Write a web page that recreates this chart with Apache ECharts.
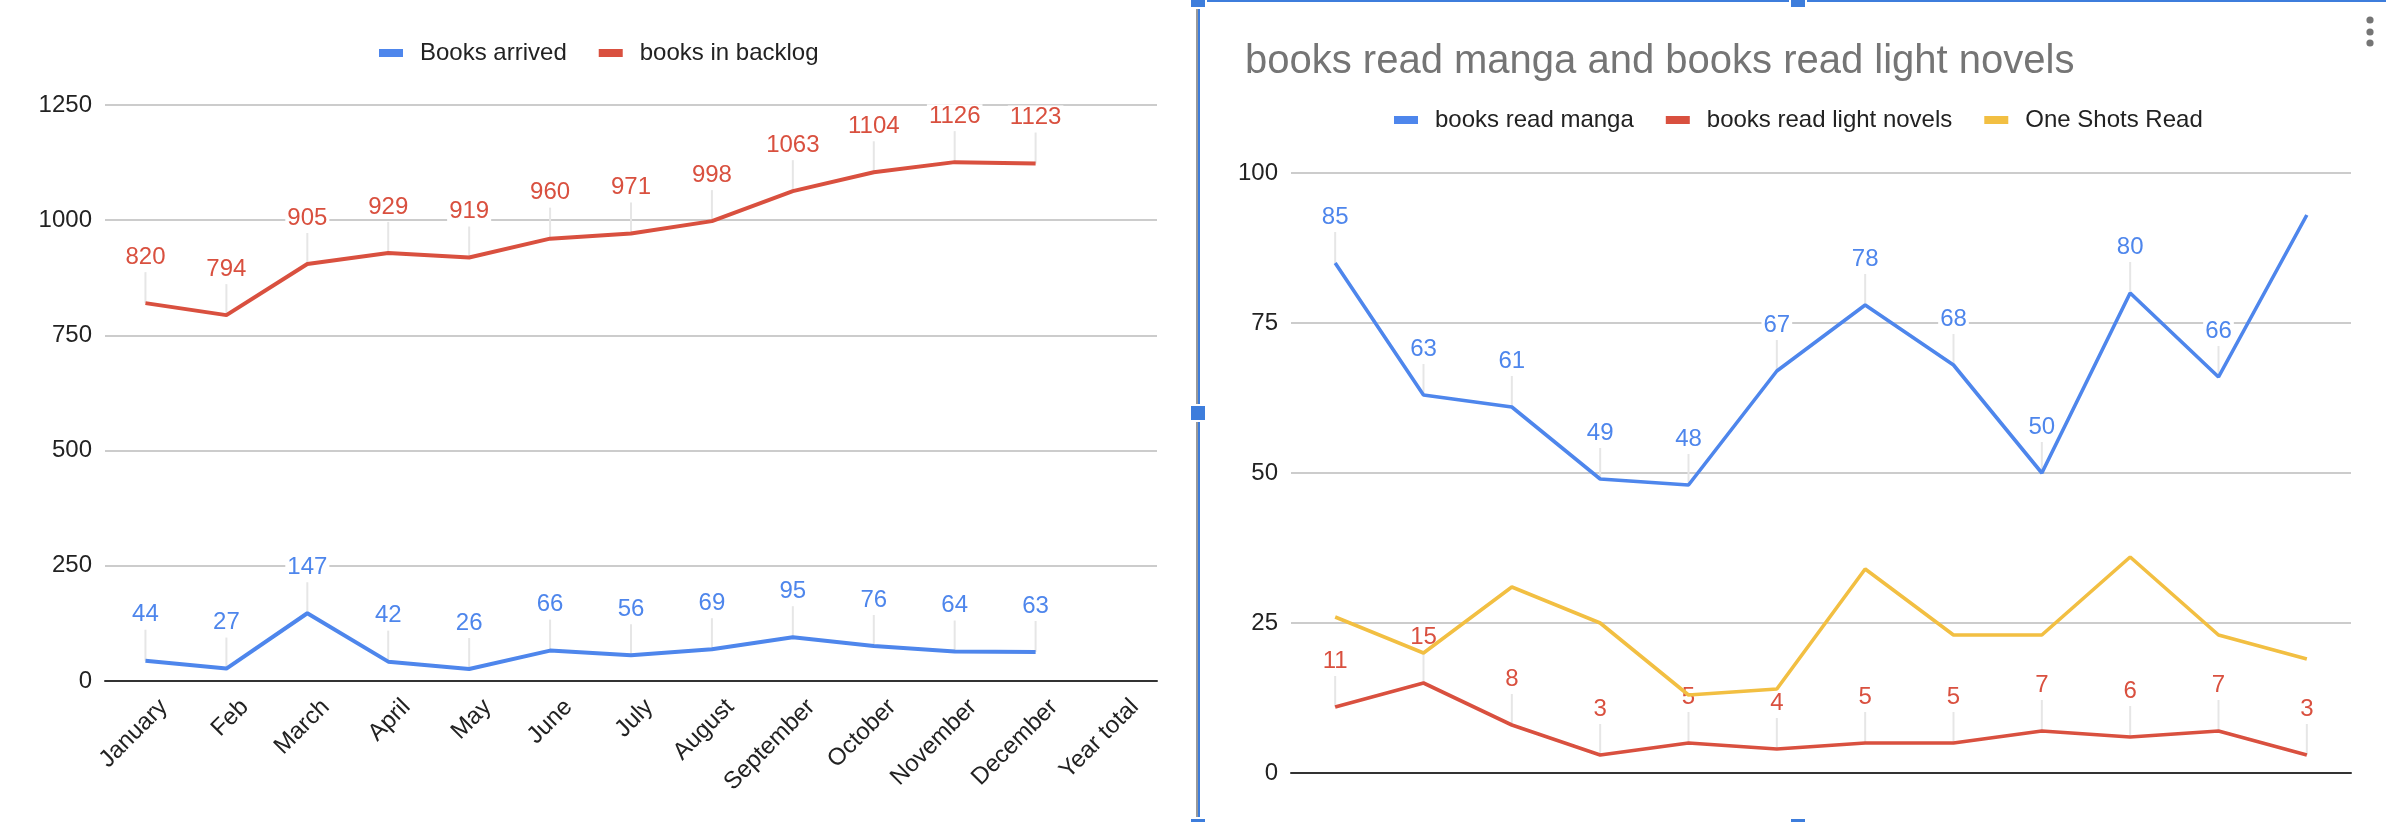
<!DOCTYPE html>
<html>
<head>
<meta charset="utf-8">
<script src="https://cdn.jsdelivr.net/npm/echarts@6/dist/echarts.min.js"></script>
<style>
html,body{margin:0;padding:0;background:#fff;}
#c{width:2386px;height:822px;}
</style>
</head>
<body>
<div id="c"></div>
<script>
// ---- data ----
const leftCategories = ['January','Feb','March','April','May','June','July','August','September','October','November','December','Year total'];
const booksArrived = [44,27,147,42,26,66,56,69,95,76,64,63];
const booksBacklog = [820,794,905,929,919,960,971,998,1063,1104,1126,1123];
const leftYMin = 0, leftYMax = 1250, leftYStep = 250;

const rightTitle = 'books read manga and books read light novels';
const rightCategories = ['January','Feb','March','April','May','June','July','August','September','October','November','December'];
const mangaRead = [85,63,61,49,48,67,78,68,50,80,66,93];
const lightNovelsRead = [11,15,8,3,5,4,5,5,7,6,7,3];
const oneShotsRead = [26,20,31,25,13,14,34,23,23,36,23,19];
const mangaHiddenLabels = [11];
const rightYMin = 0, rightYMax = 100, rightYStep = 25;

// ---- styles ----
const FONT = '"Liberation Sans", Arial, Helvetica, sans-serif';
const BLUE = '#4e86ec', RED = '#d9503f', YELLOW = '#f2bf42';
const SEL = '#3d7ddc';

function labelSeries(name, data, color, axisIdx, hidden) {
  return {
    type: 'custom',
    name: name + ' labels',
    xAxisIndex: axisIdx, yAxisIndex: axisIdx,
    z: 1, silent: true,
    data: data.map((v, i) => [i, v]),
    renderItem: function (params, api) {
      const i = api.value(0);
      if (hidden && hidden.indexOf(i) >= 0) return null;
      const v = api.value(1);
      const p = api.coord([i, v]);
      return {
        type: 'group',
        children: [
          { type: 'line', shape: { x1: p[0], y1: p[1], x2: p[0], y2: p[1] - 31 },
            style: { stroke: '#e6e6e6', lineWidth: 2 } },
          { type: 'text', x: p[0], y: p[1] - 46,
            style: { text: String(v), fill: color, fontSize: 24, fontFamily: FONT,
                     align: 'center', verticalAlign: 'middle',
                     backgroundColor: '#fff', padding: [0, 2, 0, 2] } }
        ]
      };
    }
  };
}

function lineSeries(name, data, color, axisIdx, width) {
  return {
    type: 'line', name: name, data: data,
    xAxisIndex: axisIdx, yAxisIndex: axisIdx,
    showSymbol: false, symbol: 'none', z: 3,
    lineStyle: { color: color, width: width },
    itemStyle: { color: color },
    animation: false
  };
}

const yAxisCommon = {
  type: 'value',
  axisLine: { show: false }, axisTick: { show: false },
  axisLabel: { color: '#222', fontSize: 24, fontFamily: FONT, margin: 13,
               formatter: function (v) { return String(v); } },
  splitLine: { lineStyle: { color: '#cccccc', width: 2 } }
};

const chart = echarts.init(document.getElementById('c'), null, { renderer: 'canvas' });
chart.setOption({
  animation: false,
  backgroundColor: '#fff',
  title: {
    text: rightTitle, left: 1240, top: 37,
    textStyle: { color: '#757575', fontSize: 40, fontWeight: 'normal', fontFamily: FONT }
  },
  legend: [
    { data: ['Books arrived', 'books in backlog'], left: 379, top: 41, padding: 0,
      icon: 'rect', itemWidth: 24, itemHeight: 8, itemGap: 32,
      textStyle: { color: '#222', fontSize: 24, fontFamily: FONT, padding: [0, 0, 0, 12] } },
    { data: ['books read manga', 'books read light novels', 'One Shots Read'], left: 1394, top: 108, padding: 0,
      icon: 'rect', itemWidth: 24, itemHeight: 8, itemGap: 32,
      textStyle: { color: '#222', fontSize: 24, fontFamily: FONT, padding: [0, 0, 0, 12] } }
  ],
  grid: [
    { left: 105, top: 105, width: 1052, height: 576 },
    { left: 1291, top: 173, width: 1060, height: 600 }
  ],
  xAxis: [
    { type: 'category', gridIndex: 0, data: leftCategories, boundaryGap: true,
      axisLine: { lineStyle: { color: '#333', width: 2 } }, axisTick: { show: false },
      axisLabel: { interval: 0, rotate: 45, color: '#222', fontSize: 24, fontFamily: FONT,
                   margin: 4, verticalAlign: 'top', align: 'right', padding: [14, 0, 0, 0] } },
    { type: 'category', gridIndex: 1, data: rightCategories, boundaryGap: true,
      axisLine: { lineStyle: { color: '#333', width: 2 } }, axisTick: { show: false },
      axisLabel: { show: false } }
  ],
  yAxis: [
    Object.assign({}, yAxisCommon, { gridIndex: 0, min: leftYMin, max: leftYMax, interval: leftYStep }),
    Object.assign({}, yAxisCommon, { gridIndex: 1, min: rightYMin, max: rightYMax, interval: rightYStep })
  ],
  series: [
    labelSeries('Books arrived', booksArrived, BLUE, 0),
    labelSeries('books in backlog', booksBacklog, RED, 0),
    lineSeries('Books arrived', booksArrived, BLUE, 0, 4),
    lineSeries('books in backlog', booksBacklog, RED, 0, 4),
    labelSeries('books read manga', mangaRead, BLUE, 1, mangaHiddenLabels),
    labelSeries('books read light novels', lightNovelsRead, RED, 1),
    lineSeries('books read manga', mangaRead, BLUE, 1, 3.6),
    lineSeries('books read light novels', lightNovelsRead, RED, 1, 3.6),
    lineSeries('One Shots Read', oneShotsRead, YELLOW, 1, 3.6)
  ],
  graphic: [
    // selection frame of the right chart
    { type: 'rect', z: 100, silent: true, shape: { x: 1207, y: 0, width: 1179, height: 2 }, style: { fill: SEL } },
    { type: 'rect', z: 100, silent: true, shape: { x: 1196, y: 9, width: 2, height: 808 }, style: { fill: '#999' } },
    { type: 'rect', z: 100, silent: true, shape: { x: 1198, y: 9, width: 2, height: 808 }, style: { fill: SEL } },
    { type: 'rect', z: 101, silent: true, shape: { x: 1191, y: 0, width: 14, height: 7 }, style: { fill: SEL } },
    { type: 'rect', z: 101, silent: true, shape: { x: 1789, y: 0, width: 18, height: 9 }, style: { fill: '#fff' } },
    { type: 'rect', z: 102, silent: true, shape: { x: 1791, y: 0, width: 14, height: 7 }, style: { fill: SEL } },
    { type: 'rect', z: 101, silent: true, shape: { x: 1189, y: 404, width: 18, height: 18 }, style: { fill: '#fff' } },
    { type: 'rect', z: 102, silent: true, shape: { x: 1191, y: 406, width: 14, height: 14 }, style: { fill: SEL } },
    { type: 'rect', z: 101, silent: true, shape: { x: 1191, y: 819, width: 14, height: 3 }, style: { fill: SEL } },
    { type: 'rect', z: 101, silent: true, shape: { x: 1791, y: 819, width: 14, height: 3 }, style: { fill: SEL } },
    // chart menu dots
    { type: 'circle', z: 100, silent: true, shape: { cx: 2370, cy: 20, r: 3.6 }, style: { fill: '#757575' } },
    { type: 'circle', z: 100, silent: true, shape: { cx: 2370, cy: 32, r: 3.6 }, style: { fill: '#757575' } },
    { type: 'circle', z: 100, silent: true, shape: { cx: 2370, cy: 43, r: 3.6 }, style: { fill: '#757575' } }
  ]
});
</script>
</body>
</html>
